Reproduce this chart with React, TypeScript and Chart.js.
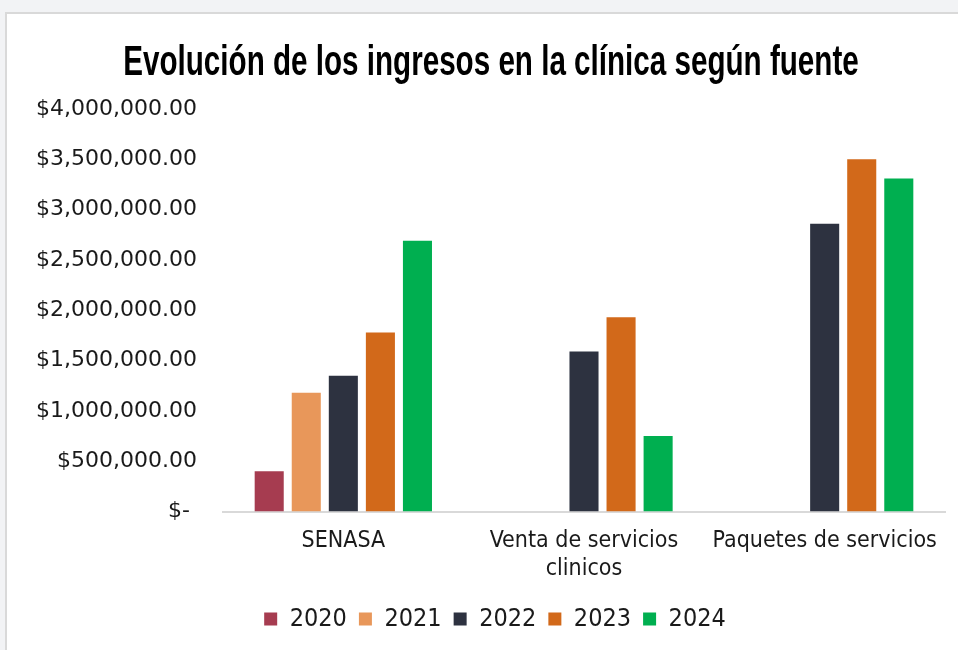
import React, { useEffect, useRef } from "react";
import { Chart, registerables } from "chart.js";

Chart.register(...registerables);

// ---- data ----
const categories: (string | string[])[] = [
  "SENASA",
  ["Venta de servicios", "clinicos"],
  "Paquetes de servicios",
];
const years = ["2020", "2021", "2022", "2023", "2024"];
const values2020 = [400000, null, null];
const values2021 = [1180000, null, null];
const values2022 = [1350000, 1590000, 2860000];
const values2023 = [1780000, 1930000, 3500000];
const values2024 = [2690000, 750000, 3310000];
const yearColors = ["#A63C50", "#E8975A", "#2D3240", "#D2691A", "#00AF50"];
const yTickLabels = [
  "$- ",
  "$500,000.00",
  "$1,000,000.00",
  "$1,500,000.00",
  "$2,000,000.00",
  "$2,500,000.00",
  "$3,000,000.00",
  "$3,500,000.00",
  "$4,000,000.00",
];
const titleText = "Evolución de los ingresos en la clínica según fuente";

const COND = "'DejaVu Sans Condensed', 'Liberation Sans Narrow', sans-serif";

// Draws the chart title with a condensed (horizontally scaled) bold face.
const condensedTitle = {
  id: "condensedTitle",
  afterDraw(chart: any, _args: any, opts: any) {
    const ctx = chart.ctx as CanvasRenderingContext2D;
    ctx.save();
    ctx.font = "bold 42px 'Liberation Sans', Arial, sans-serif";
    ctx.fillStyle = opts.color || "#000";
    ctx.textAlign = "center";
    ctx.textBaseline = "alphabetic";
    ctx.translate(chart.width / 2, opts.baseline);
    ctx.scale(opts.scaleX, 1);
    ctx.fillText(opts.text, 0, 0);
    ctx.restore();
  },
};

// Moves the legend box sideways so it is centred like the original.
const legendShift = {
  id: "legendShift",
  afterLayout(chart: any, _args: any, opts: any) {
    const lg = chart.legend;
    if (lg) {
      lg.left += opts.dx;
      lg.right += opts.dx;
    }
  },
};

export default function App() {
  const canvasRef = useRef<HTMLCanvasElement | null>(null);

  useEffect(() => {
    const canvas = canvasRef.current;
    if (!canvas) return;
    const series = [values2020, values2021, values2022, values2023, values2024];
    const chart = new Chart(canvas, {
      type: "bar",
      data: {
        labels: categories,
        datasets: years.map((y, i) => ({
          label: y,
          data: series[i],
          backgroundColor: yearColors[i],
          borderWidth: 0,
          categoryPercentage: 0.77,
          barPercentage: 0.784,
        })),
      },
      plugins: [condensedTitle, legendShift],
      options: {
        responsive: false,
        animation: false,
        devicePixelRatio: 1,
        layout: { padding: { left: 0, right: 30, top: 95, bottom: 8.5 } },
        plugins: {
          condensedTitle: { text: titleText, color: "#000", baseline: 61, scaleX: 0.705 },
          legendShift: { dx: 19 },
          title: { display: false },
          legend: {
            display: true,
            position: "bottom",
            labels: {
              boxWidth: 13,
              boxHeight: 13,
              padding: 12,
              color: "#1a1a1a",
              font: { family: COND, size: 25 },
            },
          },
          tooltip: { enabled: false },
        },
        scales: {
          x: {
            grid: { display: false },
            border: { display: true, color: "#d9d9d9", width: 2 },
            ticks: {
              color: "#1a1a1a",
              font: { family: COND, size: 23, lineHeight: 1.217 },
              padding: 8,
              maxRotation: 0,
              autoSkip: false,
            },
            afterFit: (scale: any) => {
              scale.height = 83;
            },
          },
          y: {
            min: 0,
            max: 4000000,
            grid: { display: false },
            border: { display: false },
            ticks: {
              stepSize: 500000,
              color: "#1a1a1a",
              padding: 18,
              font: { family: "'DejaVu Sans', sans-serif", size: 22 },
              callback: (_v: any, index: number) => yTickLabels[index],
            },
            afterFit: (scale: any) => {
              scale.width = 216;
            },
          },
        },
      } as any,
    });
    return () => chart.destroy();
  }, []);

  return (
    <div
      style={{
        position: "fixed",
        left: 0,
        top: 0,
        width: 958,
        height: 650,
        overflow: "hidden",
        background: "#f2f3f5",
      }}
    >
      <div
        style={{
          position: "absolute",
          left: 5,
          top: 12,
          width: 980,
          height: 660,
          background: "#ffffff",
          borderTop: "2px solid #d9d9d9",
          borderLeft: "2px solid #d9d9d9",
        }}
      >
        <canvas ref={canvasRef} width={968} height={636} style={{ display: "block" }} />
      </div>
    </div>
  );
}
